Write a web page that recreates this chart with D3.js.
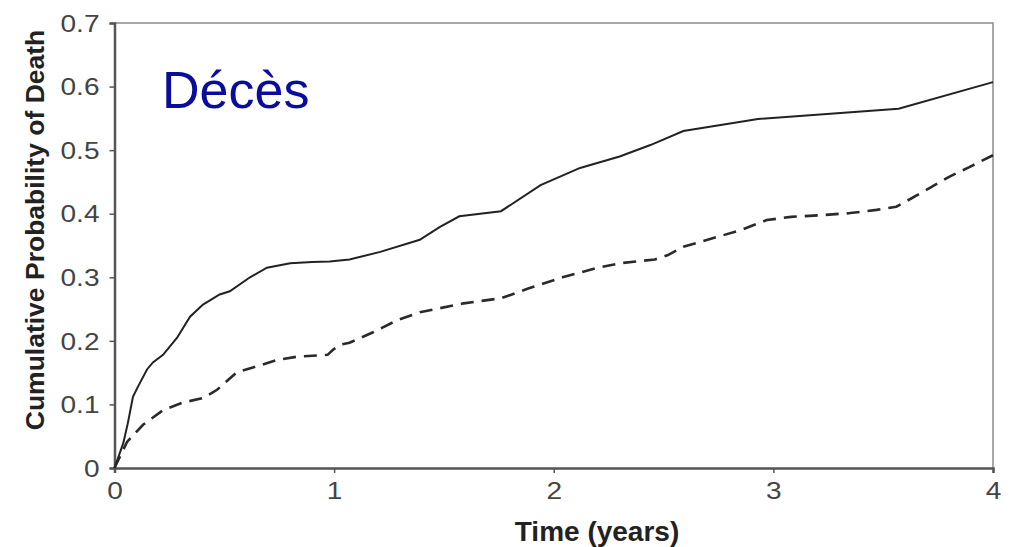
<!DOCTYPE html>
<html>
<head>
<meta charset="utf-8">
<script src="https://cdn.jsdelivr.net/npm/d3@7"></script>
<style>
  html, body { margin: 0; padding: 0; background: #fff; }
  svg text { font-family: Arial, "Liberation Sans", sans-serif; }
</style>
</head>
<body>
<svg id="chart"></svg>
<script>
// solid curve
const solidTime = [0, 0.04, 0.061, 0.084, 0.107, 0.148, 0.175, 0.221, 0.285, 0.344, 0.403, 0.479, 0.525, 0.617, 0.694, 0.80, 0.90, 0.98, 1.07, 1.21, 1.39, 1.48, 1.57, 1.76, 1.94, 2.12, 2.30, 2.44, 2.59, 2.93, 3.57, 4.0];
const solidProb = [0, 0.039, 0.071, 0.112, 0.128, 0.155, 0.166, 0.178, 0.205, 0.238, 0.257, 0.273, 0.278, 0.30, 0.315, 0.322, 0.324, 0.325, 0.328, 0.34, 0.359, 0.379, 0.396, 0.404, 0.445, 0.472, 0.49, 0.508, 0.530, 0.549, 0.565, 0.607];

// dashed curve
const dashedTime = [0, 0.057, 0.13, 0.221, 0.312, 0.403, 0.467, 0.558, 0.63, 0.74, 0.83, 0.97, 0.995, 1.03, 1.07, 1.18, 1.29, 1.39, 1.59, 1.76, 1.89, 2.04, 2.20, 2.30, 2.46, 2.52, 2.59, 2.74, 2.85, 2.97, 3.08, 3.23, 3.35, 3.47, 3.56, 3.68, 3.80, 3.89, 4.0];
const dashedProb = [0, 0.041, 0.068, 0.091, 0.103, 0.11, 0.123, 0.151, 0.158, 0.170, 0.175, 0.178, 0.186, 0.194, 0.197, 0.214, 0.233, 0.245, 0.259, 0.267, 0.283, 0.30, 0.315, 0.322, 0.328, 0.335, 0.348, 0.363, 0.374, 0.39, 0.395, 0.398, 0.401, 0.406, 0.411, 0.434, 0.458, 0.473, 0.492];

const xTicks = [0, 1, 2, 3, 4];
const yTicks = [0, 0.1, 0.2, 0.3, 0.4, 0.5, 0.6, 0.7];
const yTickLabels = ["0", "0.1", "0.2", "0.3", "0.4", "0.5", "0.6", "0.7"];

const width = 1011, height = 547;
const plotLeft = 114.5, plotRight = 993, plotTop = 23, plotBottom = 468;

const svg = d3.select('#chart').attr('width', width).attr('height', height);

const x = d3.scaleLinear().domain([0, 4]).range([plotLeft, plotRight]);
const y = d3.scaleLinear().domain([0, 0.7]).range([plotBottom, plotTop]);

// frame (top and right, lighter)
svg.append('path')
  .attr('d', `M${plotLeft},${plotTop}H${plotRight}V${plotBottom}`)
  .attr('fill', 'none')
  .attr('stroke', '#8a8a8a')
  .attr('stroke-width', 1.5);

const xAxis = svg.append('g')
  .attr('transform', `translate(0,${plotBottom})`)
  .call(d3.axisBottom(x).tickValues(xTicks).tickSize(5).tickPadding(6).tickFormat(d3.format('d')));

const yAxis = svg.append('g')
  .attr('transform', `translate(${plotLeft},0)`)
  .call(d3.axisLeft(y).tickValues(yTicks).tickSize(5).tickPadding(10).tickFormat((d, i) => yTickLabels[i]));

[xAxis, yAxis].forEach(g => {
  g.select('.domain').attr('stroke', '#555').attr('stroke-width', 2.5);
  g.selectAll('.tick line').attr('stroke', '#555').attr('stroke-width', 1.5);
  g.selectAll('.tick text')
    .attr('fill', '#444')
    .style('font-size', '23px')
    .each(function () {
      // the scanned labels are a bit wider than plain Arial
      const w = this.getComputedTextLength();
      d3.select(this).attr('textLength', w * 1.22).attr('lengthAdjust', 'spacingAndGlyphs');
    });
});
yAxis.selectAll('.tick text').attr('dy', '0.36em');
xAxis.selectAll('.tick text').attr('dy', '0.85em');

const line = d3.line().x(d => x(d[0])).y(d => y(d[1]));

svg.append('path')
  .datum(solidTime.map((t, i) => [t, solidProb[i]]))
  .attr('d', line)
  .attr('fill', 'none')
  .attr('stroke', '#222')
  .attr('stroke-width', 2);

svg.append('path')
  .datum(dashedTime.map((t, i) => [t, dashedProb[i]]))
  .attr('d', line)
  .attr('fill', 'none')
  .attr('stroke', '#2a2a2a')
  .attr('stroke-width', 2.6)
  .attr('stroke-dasharray', '13,8');

// titles
svg.append('text')
  .attr('x', 597)
  .attr('y', 541)
  .attr('text-anchor', 'middle')
  .attr('font-weight', 'bold')
  .attr('font-size', 28)
  .attr('fill', '#222')
  .text('Time (years)');

svg.append('text')
  .attr('transform', `translate(44,230) rotate(-90)`)
  .attr('text-anchor', 'middle')
  .attr('font-weight', 'bold')
  .attr('font-size', 26.5)
  .attr('fill', '#222')
  .text('Cumulative Probability of Death');

svg.append('text')
  .attr('x', 162)
  .attr('y', 108)
  .attr('font-size', 52)
  .attr('fill', '#0c0c9c')
  .text('Décès');
</script>
</body>
</html>
